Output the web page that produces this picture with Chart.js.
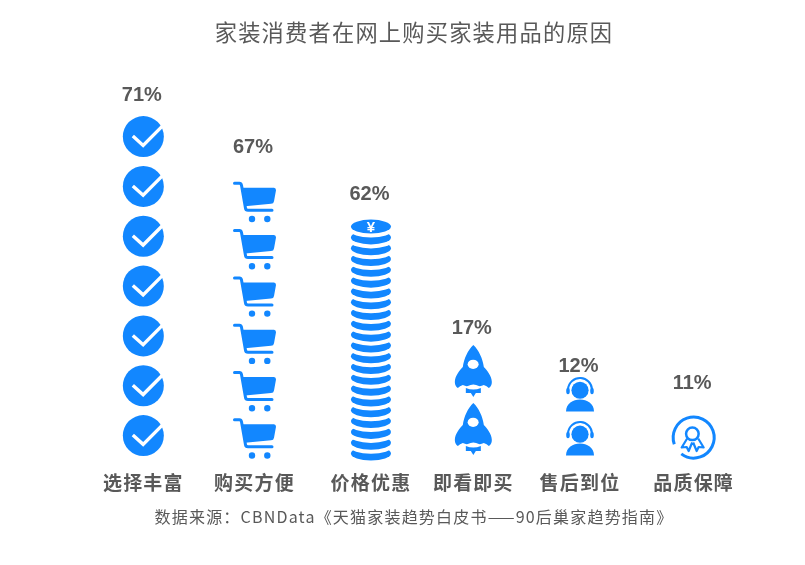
<!DOCTYPE html>
<html>
<head>
<meta charset="utf-8">
<title>家装消费者在网上购买家装用品的原因</title>
<script src="https://cdn.jsdelivr.net/npm/chart.js@4"></script>
<style>
  html, body { margin: 0; background: #fff; }
  #wrap { width: 805px; height: 565px; }
</style>
</head>
<body>
<div id="wrap"><canvas id="reasonChart" width="805" height="565"></canvas></div>
<script>
const categories = ['选择丰富', '购买方便', '价格优惠', '即看即买', '售后到位', '品质保障'];
const percents = [71, 67, 62, 17, 12, 11];
// height of each icon stack as drawn in the picture (not proportional to the percent)
const stackHeights = [349, 284, 241, 116, 88, 46];
const iconCounts = [7, 6, 22, 2, 2, 1];
const sourceText = '数据来源：CBNData《天猫家装趋势白皮书——90后巢家趋势指南》';

const BLUE = '#1287ff';
const GREY = '#595959';
const CJK = '"Noto Sans CJK SC", "Liberation Sans", sans-serif';
const xNudge = [6, 6.5, 12.3, 4, 0, 3];
const labelGap = [16, 29, 25, 16, 6, 31];

// Category axis, columns in the reference are not evenly spaced
class NudgedCategoryScale extends Chart.CategoryScale {
    getPixelForValue(value, index) {
        const v = typeof value === 'number' ? value : this.parse(value);
        return super.getPixelForValue(v, index) + (xNudge[v] || 0);
    }
}
NudgedCategoryScale.id = 'nudgedCategory';
NudgedCategoryScale.defaults = Chart.CategoryScale.defaults;
Chart.register(NudgedCategoryScale);

function drawCheck(ctx, cx, cy) {
    const r = 20.5;
    ctx.fillStyle = BLUE;
    ctx.beginPath();
    ctx.arc(cx, cy, r, 0, Math.PI * 2);
    ctx.fill();
    ctx.strokeStyle = '#fff';
    ctx.lineWidth = 3.4;
    ctx.lineJoin = 'miter';
    ctx.beginPath();
    ctx.moveTo(cx - 10.5, cy - 0.5);
    ctx.lineTo(cx - 0.2, cy + 8.8);
    ctx.lineTo(cx + 19.5, cy - 11);
    ctx.stroke();
}

function drawCart(ctx, cx, cy) {
    ctx.save();
    ctx.translate(cx - 21.5, cy - 20.5);
    ctx.fillStyle = BLUE;
    ctx.strokeStyle = BLUE;
    ctx.lineWidth = 3;
    ctx.lineCap = 'round';
    ctx.lineJoin = 'round';
    ctx.beginPath();
    ctx.moveTo(1.5, 2);
    ctx.lineTo(6.5, 2);
    ctx.quadraticCurveTo(8, 2, 8.5, 4);
    ctx.lineTo(12.5, 27);
    ctx.quadraticCurveTo(12.8, 29, 15, 29);
    ctx.lineTo(39, 29);
    ctx.stroke();
    ctx.beginPath();
    ctx.moveTo(8, 6.5);
    ctx.lineTo(41, 6.5);
    ctx.quadraticCurveTo(43, 6.5, 43, 9);
    ctx.lineTo(41, 20);
    ctx.quadraticCurveTo(40.7, 22.5, 38, 22.5);
    ctx.lineTo(12, 25);
    ctx.closePath();
    ctx.fill();
    ctx.beginPath();
    ctx.arc(19, 37.7, 3.2, 0, Math.PI * 2);
    ctx.arc(34.3, 37.7, 3.2, 0, Math.PI * 2);
    ctx.fill();
    ctx.restore();
}

function drawRocket(ctx, cx, cy) {
    ctx.save();
    ctx.translate(cx - 18.5, cy - 26);
    ctx.fillStyle = BLUE;
    ctx.beginPath();
    ctx.moveTo(18.5, 0);
    ctx.bezierCurveTo(13, 5, 9, 14, 8, 22);
    ctx.bezierCurveTo(5, 25, 0, 31, 0, 37);
    ctx.quadraticCurveTo(0, 41, 3, 43);
    ctx.quadraticCurveTo(5, 41, 8, 40);
    ctx.quadraticCurveTo(11, 41.5, 13, 41);
    ctx.quadraticCurveTo(18.5, 38, 24, 41);
    ctx.quadraticCurveTo(26, 41.5, 29, 40);
    ctx.quadraticCurveTo(32, 41, 34, 43);
    ctx.quadraticCurveTo(37, 41, 37, 37);
    ctx.bezierCurveTo(37, 31, 32, 25, 29, 22);
    ctx.bezierCurveTo(28, 14, 24, 5, 18.5, 0);
    ctx.fill();
    ctx.beginPath();
    ctx.moveTo(11, 43);
    ctx.quadraticCurveTo(18.5, 46, 26, 43);
    ctx.lineTo(26, 48);
    ctx.lineTo(21, 48);
    ctx.lineTo(18.5, 52);
    ctx.lineTo(16, 48);
    ctx.lineTo(11, 48);
    ctx.closePath();
    ctx.fill();
    ctx.fillStyle = '#fff';
    ctx.beginPath();
    ctx.ellipse(18.3, 19.3, 5.5, 4.6, 0, 0, Math.PI * 2);
    ctx.fill();
    ctx.restore();
}

function drawHeadset(ctx, cx, cy) {
    ctx.save();
    ctx.translate(cx - 14, cy - 17);
    ctx.fillStyle = BLUE;
    ctx.strokeStyle = BLUE;
    ctx.beginPath();
    ctx.arc(14, 12.7, 8.6, 0, Math.PI * 2);
    ctx.fill();
    ctx.lineWidth = 2;
    ctx.beginPath();
    ctx.arc(14, 12.5, 12, Math.PI * 1.02, Math.PI * 1.98);
    ctx.stroke();
    ctx.beginPath();
    ctx.ellipse(2, 13.5, 1.8, 3.2, 0, 0, Math.PI * 2);
    ctx.ellipse(26, 13.5, 1.8, 3.2, 0, 0, Math.PI * 2);
    ctx.fill();
    ctx.beginPath();
    ctx.moveTo(0, 34);
    ctx.bezierCurveTo(0, 26, 7, 22, 14, 22);
    ctx.bezierCurveTo(21, 22, 28, 26, 28, 34);
    ctx.closePath();
    ctx.fill();
    ctx.restore();
}

function drawRibbon(ctx, cx, cy) {
    ctx.save();
    ctx.translate(cx, cy);
    ctx.strokeStyle = BLUE;
    ctx.lineWidth = 3;
    ctx.beginPath();
    ctx.arc(0, 0, 20.5, Math.PI * 0.894, Math.PI * 2.706, false);
    ctx.stroke();
    ctx.lineWidth = 2.5;
    ctx.lineJoin = 'round';
    ctx.beginPath();
    ctx.arc(-1.3, -3.7, 6.3, 0, Math.PI * 2);
    ctx.stroke();
    ctx.lineWidth = 2.2;
    ctx.beginPath();
    ctx.moveTo(-6.5, 1);
    ctx.lineTo(-12, 10);
    ctx.lineTo(-7, 9.5);
    ctx.lineTo(-5, 13.5);
    ctx.lineTo(-1.5, 5);
    ctx.moveTo(-0.5, 5);
    ctx.lineTo(3, 13.5);
    ctx.lineTo(5, 9.5);
    ctx.lineTo(10, 10);
    ctx.lineTo(4.5, 1);
    ctx.stroke();
    ctx.restore();
}

function drawCoinStack(ctx, bar, count) {
    const rx = 20, ry = 7;
    const pitch = (bar.base - bar.y - 2 * ry) / (count - 1);
    const cx = bar.x;
    for (let i = 0; i < count; i++) {
        const cy = bar.base - ry - i * pitch;
        ctx.fillStyle = BLUE;
        ctx.beginPath();
        ctx.ellipse(cx, cy, rx, ry, 0, 0, Math.PI * 2);
        ctx.fill();
        if (i < count - 1) {
            ctx.fillStyle = '#fff';
            ctx.beginPath();
            ctx.ellipse(cx, cy - pitch + 4, rx + 1, ry, 0, 0, Math.PI * 2);
            ctx.fill();
        }
    }
    ctx.fillStyle = '#fff';
    ctx.font = 'bold 15px "Liberation Sans", sans-serif';
    ctx.textAlign = 'center';
    ctx.textBaseline = 'middle';
    ctx.fillText('¥', cx, bar.y + 8);
}

const iconDrawers = [drawCheck, drawCart, null, drawRocket, drawHeadset, drawRibbon];
const iconShift = [0, 1.5, 0, -2.5, 0, 0];

const pictogramPlugin = {
    id: 'pictogram',
    beforeDraw(chart) {
        // spaced out text, like the reference
        chart.ctx.letterSpacing = '1.2px';
    },
    afterDatasetsDraw(chart) {
        const ctx = chart.ctx;
        chart.getDatasetMeta(0).data.forEach((bar, i) => {
            ctx.save();
            ctx.letterSpacing = '0px';
            if (iconDrawers[i]) {
                const pitch = (bar.base - bar.y) / iconCounts[i];
                for (let k = 0; k < iconCounts[i]; k++) {
                    iconDrawers[i](ctx, bar.x, bar.base - pitch * (k + 0.5) + iconShift[i]);
                }
            } else {
                drawCoinStack(ctx, bar, iconCounts[i]);
            }
            ctx.fillStyle = GREY;
            ctx.font = 'bold 20px "Liberation Sans", sans-serif';
            ctx.textAlign = 'center';
            ctx.textBaseline = 'middle';
            ctx.fillText(percents[i] + '%', bar.x - 1.5, bar.y - labelGap[i]);
            ctx.restore();
        });
    }
};

const reasonChart = new Chart(document.getElementById('reasonChart').getContext('2d'), {
    type: 'bar',
    data: {
        labels: categories,
        datasets: [{
            label: '比例',
            data: stackHeights,
            backgroundColor: 'rgba(0,0,0,0)',
            barThickness: 40
        }]
    },
    options: {
        responsive: false,
        animation: false,
        layout: { padding: { left: 82, right: 59, top: 0, bottom: 38 } },
        plugins: {
            legend: { display: false },
            tooltip: { enabled: false },
            title: {
                display: true,
                text: '家装消费者在网上购买家装用品的原因',
                fullSize: false,
                color: GREY,
                font: { family: CJK, size: 22.25, weight: 'normal' },
                padding: { top: 19, bottom: 8 }
            },
            subtitle: {
                display: true,
                position: 'bottom',
                text: sourceText,
                fullSize: false,
                color: GREY,
                font: { family: CJK, size: 16, weight: 'normal' },
                padding: { top: 10.5, bottom: 0 }
            }
        },
        scales: {
            x: {
                type: 'nudgedCategory',
                grid: { display: false },
                border: { display: false },
                ticks: {
                    color: GREY,
                    maxRotation: 0,
                    autoSkip: false,
                    padding: 3,
                    font: { family: CJK, size: 19, weight: 'bold' }
                }
            },
            y: {
                display: false,
                min: 0,
                max: 407
            }
        }
    },
    plugins: [pictogramPlugin]
});
</script>
</body>
</html>
